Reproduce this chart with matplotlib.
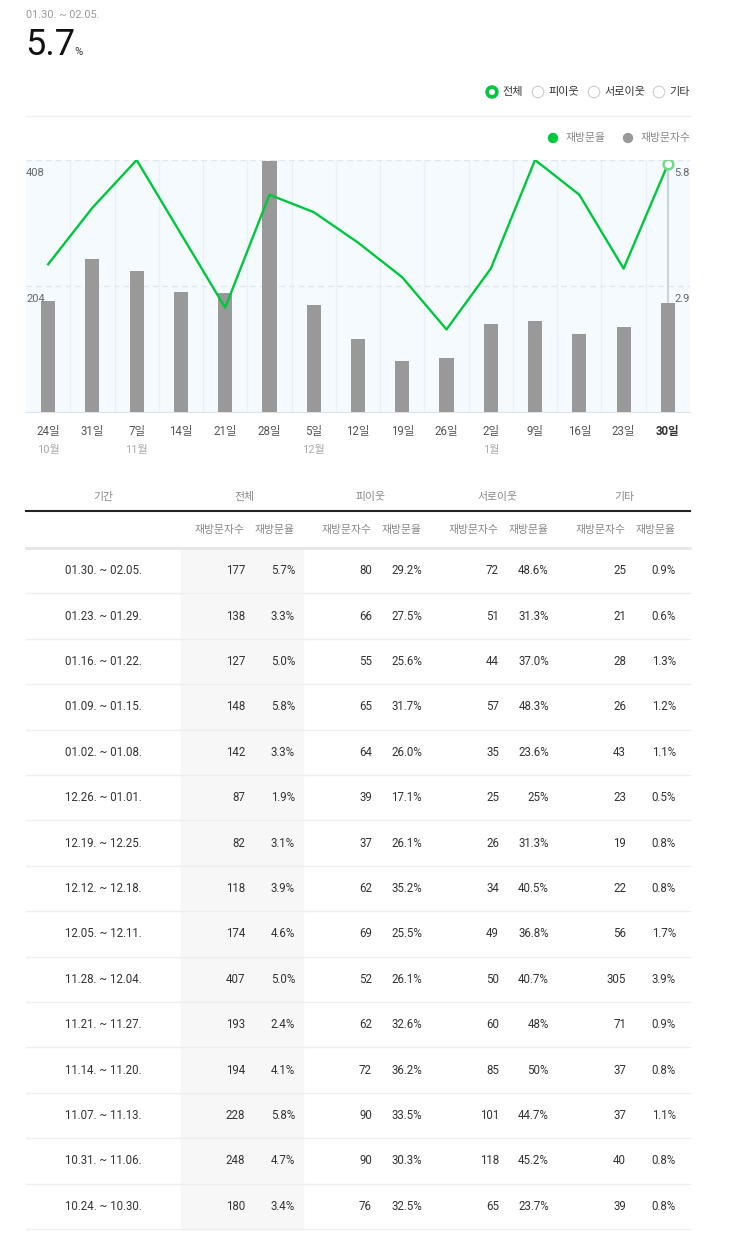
import matplotlib
matplotlib.use('Agg')
import matplotlib.pyplot as plt
from matplotlib.patches import Circle, Rectangle
from matplotlib.transforms import blended_transform_factory, offset_copy

plt.rcParams['font.family'] = ['Roboto', 'Noto Sans CJK KR', 'DejaVu Sans']

# 주간 데이터 (오래된 주 -> 최근 주)
days = ['24일', '31일', '7일', '14일', '21일', '28일', '5일', '12일', '19일', '26일',
        '2일', '9일', '16일', '23일', '30일']
months = {0: '10월', 2: '11월', 6: '12월', 10: '1월'}
visitors = [180, 248, 228, 194, 193, 407, 174, 118, 82, 87, 142, 148, 127, 138, 177]
rate = [3.4, 4.7, 5.8, 4.1, 2.4, 5.0, 4.6, 3.9, 3.1, 1.9, 3.3, 5.8, 5.0, 3.3, 5.7]

# 표 (최근 주 -> 오래된 주)
periods = ['01.30. ~ 02.05.', '01.23. ~ 01.29.', '01.16. ~ 01.22.', '01.09. ~ 01.15.',
           '01.02. ~ 01.08.', '12.26. ~ 01.01.', '12.19. ~ 12.25.', '12.12. ~ 12.18.',
           '12.05. ~ 12.11.', '11.28. ~ 12.04.', '11.21. ~ 11.27.', '11.14. ~ 11.20.',
           '11.07. ~ 11.13.', '10.31. ~ 11.06.', '10.24. ~ 10.30.']
all_cnt = [177, 138, 127, 148, 142, 87, 82, 118, 174, 407, 193, 194, 228, 248, 180]
all_pct = ['5.7%', '3.3%', '5.0%', '5.8%', '3.3%', '1.9%', '3.1%', '3.9%', '4.6%', '5.0%',
           '2.4%', '4.1%', '5.8%', '4.7%', '3.4%']
nb_cnt = [80, 66, 55, 65, 64, 39, 37, 62, 69, 52, 62, 72, 90, 90, 76]
nb_pct = ['29.2%', '27.5%', '25.6%', '31.7%', '26.0%', '17.1%', '26.1%', '35.2%', '25.5%',
          '26.1%', '32.6%', '36.2%', '33.5%', '30.3%', '32.5%']
mut_cnt = [72, 51, 44, 57, 35, 25, 26, 34, 49, 50, 60, 85, 101, 118, 65]
mut_pct = ['48.6%', '31.3%', '37.0%', '48.3%', '23.6%', '25%', '31.3%', '40.5%', '36.8%',
           '40.7%', '48%', '50%', '44.7%', '45.2%', '23.7%']
etc_cnt = [25, 21, 28, 26, 43, 23, 19, 22, 56, 305, 71, 37, 37, 40, 39]
etc_pct = ['0.9%', '0.6%', '1.3%', '1.2%', '1.1%', '0.5%', '0.8%', '0.8%', '1.7%', '3.9%',
           '0.9%', '0.8%', '1.1%', '0.8%', '0.8%']

groups = ['전체', '피이웃', '서로이웃', '기타']
GREEN = '#00c73c'
BAR = '#999999'

fig = plt.figure(figsize=(7.43, 12.35), dpi=100)
bg = fig.add_axes([0, 0, 1, 1])
bg.set_xlim(0, 743)
bg.set_ylim(1235, 0)
bg.axis('off')

# 상단 요약
bg.text(26, 15, '01.30. ~ 02.05.', fontsize=7.8, color='#999999', va='center')
bg.text(25, 55, '5.7', fontsize=26, color='#111111', va='baseline')
bg.text(74, 55, '%', fontsize=8, color='#333333', va='baseline')

# 라디오 버튼
radio_x = [492, 538, 594, 659]
for i, (x, g) in enumerate(zip(radio_x, groups)):
    if i == 0:
        bg.add_patch(Circle((x, 92), 6, color=GREEN))
        bg.add_patch(Circle((x, 92), 2.3, color='white'))
    else:
        bg.add_patch(Circle((x, 92), 5.8, facecolor='white', edgecolor='#cccccc', lw=0.8))
    bg.text(x + 10, 92, g, fontsize=8, color='#333333', va='center')
bg.plot([26, 690], [116, 116], color='#eeeeee', lw=1)

# 범례
bg.add_patch(Circle((553, 138), 4.5, color=GREEN))
bg.text(566, 138, '재방문율', fontsize=7.8, color='#888888', va='center')
bg.add_patch(Circle((628, 138), 4.5, color=BAR))
bg.text(641, 138, '재방문자수', fontsize=7.8, color='#888888', va='center')

# 차트
ax = fig.add_axes([26 / 743, 1 - 412 / 1235, 664 / 743, 252 / 1235])
ax.set_facecolor('#f5faff')
x = list(range(len(days)))
ax.set_xlim(-0.5, len(days) - 0.5)
ax.set_ylim(0, 408)
for k in range(len(days) - 1):
    ax.axvline(k + 0.5, color='#e8f0f8', lw=1, zorder=1)
for v in [204, 408]:
    ax.axhline(v, color='#dfe6ee', lw=1, ls=(0, (4, 3)), zorder=1)
ax.vlines(x[-1], 0, rate[-1] / 5.8 * 408, color='#cfd3d8', lw=1.5, zorder=2)
ax.bar(x, visitors, width=0.32, color=BAR, zorder=3)
for s in ['top', 'left', 'right']:
    ax.spines[s].set_visible(False)
ax.spines['bottom'].set_color('#dde3ea')
ax.set_yticks([])
ax.set_xticks(x)
ax.set_xticklabels(days, fontsize=8.3, color='#555555')
ax.tick_params(axis='x', length=0, pad=9.5)
last = ax.get_xticklabels()[-1]
last.set_fontweight('bold')
last.set_color('#333333')

lt = offset_copy(ax.transData, fig=fig, x=0, y=-6, units='points')
for v in [204, 408]:
    ax.text(-0.5, v, str(v), fontsize=8, color='#666666', va='top', ha='left', transform=lt, zorder=5)

trans = blended_transform_factory(ax.transData, ax.transAxes)
for k, m in months.items():
    ax.text(k, -0.15, m, fontsize=8, color='#aaaaaa', ha='center', va='center', transform=trans)

ax2 = ax.twinx()
ax2.set_ylim(0, 5.8)
ax2.set_yticks([])
for s in ax2.spines.values():
    s.set_visible(False)
ax2.plot(x, rate, color=GREEN, lw=1.7, zorder=4)
ax2.plot(x[-1], rate[-1], 'o', ms=7, mfc='white', mec='#6ddc87', mew=1.8, zorder=5)
rt = offset_copy(ax2.transData, fig=fig, x=0, y=-6, units='points')
for v in [2.9, 5.8]:
    ax2.text(len(days) - 0.5, v, str(v), fontsize=8, color='#666666', va='top', ha='right', transform=rt)

# 표
head_x = [103, 244, 371, 497, 624]
for hx, h in zip(head_x, ['기간'] + groups):
    bg.text(hx, 497, h, fontsize=7.8, color='#888888', ha='center', va='center')
bg.plot([26, 690], [511, 511], color='#222222', lw=1.5)

cnt_r = [245, 372, 499, 626]
pct_r = [295, 422, 549, 676]
for cr, pr in zip(cnt_r, pct_r):
    bg.text(cr, 530, '재방문자수', fontsize=7.8, color='#888888', ha='right', va='center')
    bg.text(pr, 530, '재방문율', fontsize=7.8, color='#888888', ha='right', va='center')

row_h = 45.4
top = 548
bg.add_patch(Rectangle((181, top), 122, row_h * len(periods), color='#f7f7f7', zorder=0))
bg.plot([26, 690], [top, top], color='#e6e6e6', lw=2)
cols = [(all_cnt, all_pct), (nb_cnt, nb_pct), (mut_cnt, mut_pct), (etc_cnt, etc_pct)]
for i, p in enumerate(periods):
    yc = top + row_h * (i + 0.5)
    bg.text(103, yc, p, fontsize=8.3, color='#333333', ha='center', va='center')
    for (cnt, pct), cr, pr in zip(cols, cnt_r, pct_r):
        bg.text(cr, yc, str(cnt[i]), fontsize=8.3, color='#333333', ha='right', va='center')
        bg.text(pr, yc, pct[i], fontsize=8.3, color='#333333', ha='right', va='center')
    yl = top + row_h * (i + 1)
    bg.plot([26, 690], [yl, yl], color='#eeeeee', lw=1)

fig.savefig('out.png', dpi=100)
